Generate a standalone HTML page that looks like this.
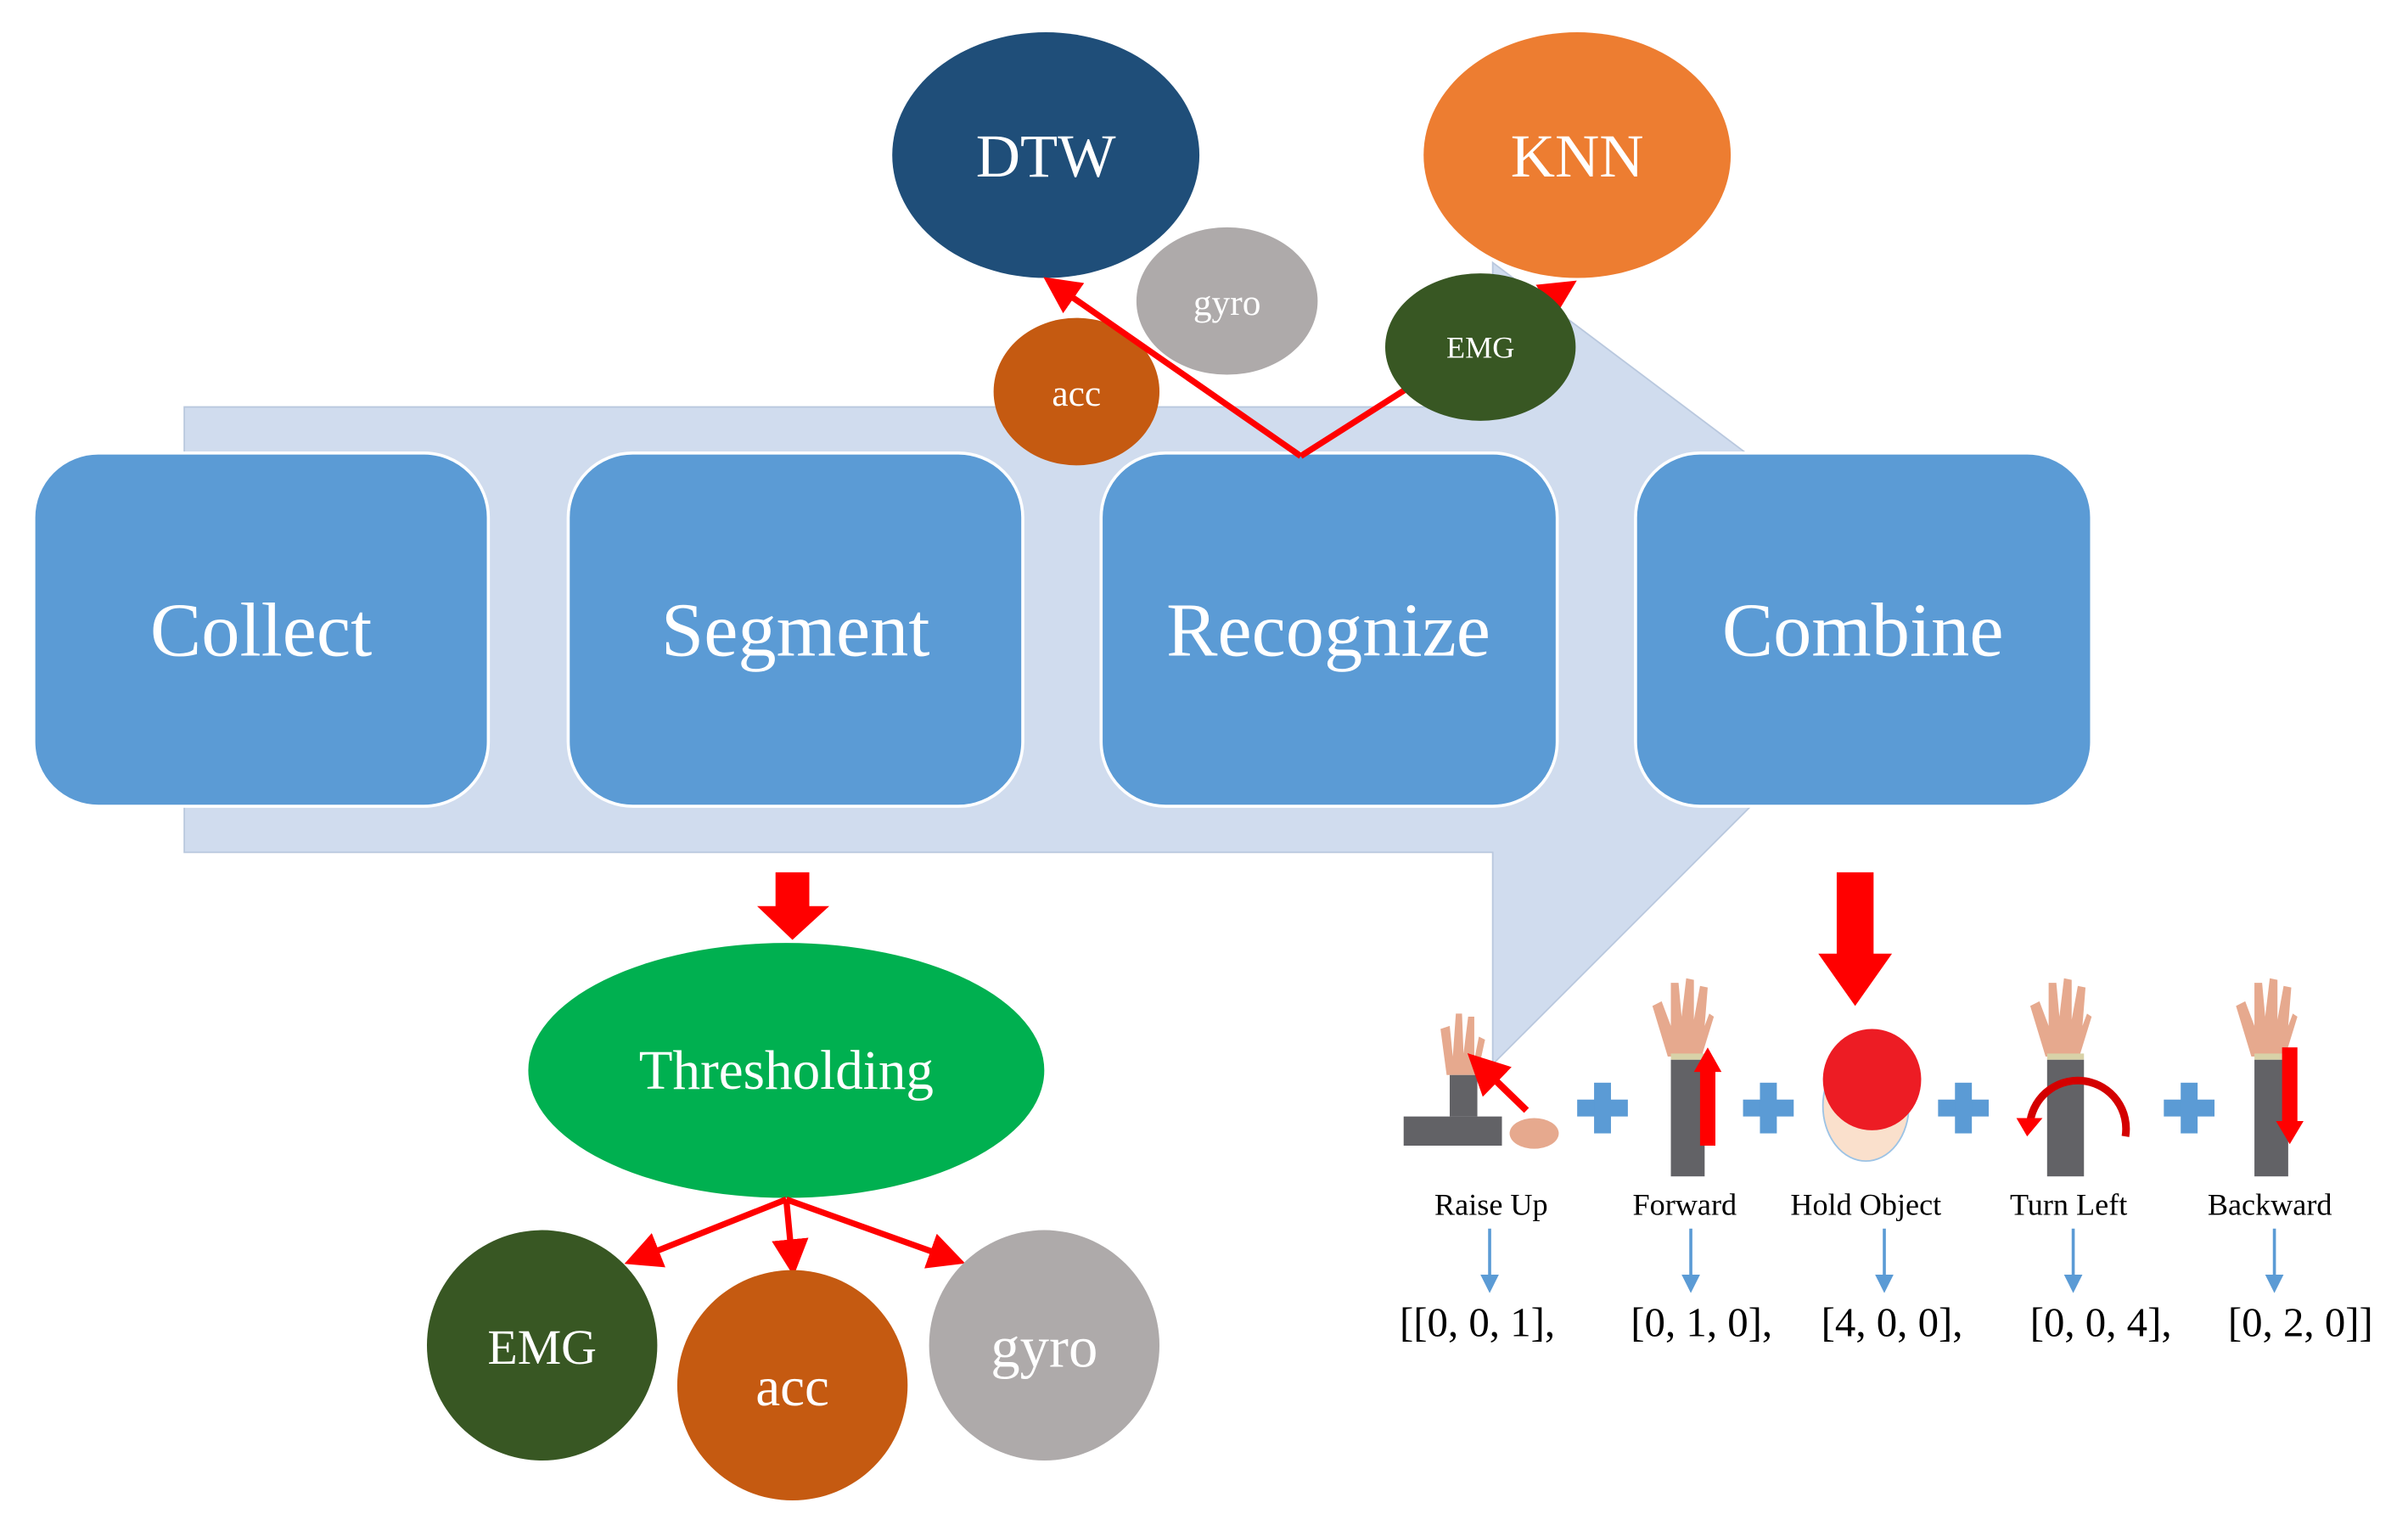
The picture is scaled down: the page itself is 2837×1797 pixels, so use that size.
<!DOCTYPE html>
<html><head><meta charset="utf-8"><style>
html,body{margin:0;padding:0;background:#fff;}
svg{display:block;}
text{font-family:"Liberation Serif",serif;}
</style></head><body>
<svg width="2837" height="1797" viewBox="0 0 1568 993" preserveAspectRatio="none" xmlns="http://www.w3.org/2000/svg">
<defs>
<marker id="ah" markerWidth="6" markerHeight="6" refX="4" refY="3" orient="auto" markerUnits="strokeWidth"><path d="M0,0 L6,3 L0,6 z" fill="#f00"/></marker>
<marker id="bh" markerWidth="6" markerHeight="6" refX="4" refY="3" orient="auto" markerUnits="strokeWidth"><path d="M0,0 L6,3 L0,6 z" fill="#5B9BD5"/></marker>
</defs>
<polygon points="120,265 972,265 972,171 1270,395 972,693 972,555 120,555" fill="#D0DCEE" stroke="#B9C8DE" stroke-width="1"/>
<g fill="#5B9BD5" stroke="#fff" stroke-width="2">
<rect x="22" y="295" width="296" height="230" rx="42"/>
<rect x="370" y="295" width="296" height="230" rx="42"/>
<rect x="717" y="295" width="297" height="230" rx="42"/>
<rect x="1065" y="295" width="297" height="230" rx="42"/>
</g>
<g fill="#fff" font-size="50" text-anchor="middle">
<text x="170" y="427">Collect</text>
<text x="518" y="427">Segment</text>
<text x="865" y="427">Recognize</text>
<text x="1213" y="427">Combine</text>
</g>
<ellipse cx="681" cy="101" rx="100" ry="80" fill="#1F4E79"/>
<ellipse cx="1027" cy="101" rx="100" ry="80" fill="#ED7D31"/>
<text x="681" y="115" font-size="40" fill="#fff" text-anchor="middle">DTW</text>
<text x="1027" y="115" font-size="40" fill="#fff" text-anchor="middle">KNN</text>
<ellipse cx="799" cy="196" rx="59" ry="48" fill="#AEAAAA"/>
<text x="799" y="205" font-size="24" fill="#fff" text-anchor="middle">gyro</text>
<ellipse cx="701" cy="255" rx="54" ry="48" fill="#C55A11"/>
<text x="701" y="264" font-size="24" fill="#fff" text-anchor="middle">acc</text>
<line x1="847" y1="297" x2="1020" y2="187" stroke="#f00" stroke-width="4" marker-end="url(#ah)"/>
<line x1="847" y1="297" x2="686" y2="185" stroke="#f00" stroke-width="4" marker-end="url(#ah)"/>
<ellipse cx="964" cy="226" rx="62" ry="48" fill="#385723"/>
<text x="964" y="233" font-size="20" fill="#fff" text-anchor="middle">EMG</text>
<rect x="505" y="568" width="22" height="24" fill="#f00"/>
<polygon points="493,590 540,590 516,612" fill="#f00"/>
<ellipse cx="512" cy="697" rx="168" ry="83" fill="#00B050"/>
<text x="512" y="709" font-size="36" fill="#fff" text-anchor="middle">Thresholding</text>
<g stroke="#f00" stroke-width="4">
<line x1="512" y1="781" x2="414" y2="820" marker-end="url(#ah)"/>
<line x1="512" y1="781" x2="516" y2="823" marker-end="url(#ah)"/>
<line x1="512" y1="781" x2="621" y2="820" marker-end="url(#ah)"/>
</g>
<circle cx="353" cy="876" r="75" fill="#385723"/>
<circle cx="680" cy="876" r="75" fill="#AEAAAA"/>
<circle cx="516" cy="902" r="75" fill="#C55A11"/>
<text x="353" y="888" font-size="32" fill="#fff" text-anchor="middle">EMG</text>
<text x="680" y="890" font-size="38" fill="#fff" text-anchor="middle">gyro</text>
<text x="516" y="915" font-size="36" fill="#fff" text-anchor="middle">acc</text>
<rect x="1196" y="568" width="24" height="55" fill="#f00"/>
<polygon points="1184,621 1232,621 1208,655" fill="#f00"/>
<g fill="#E6A98E">
<path d="M942,700 L938,670 L944,668 L946,688 L948,660 L952,660 L953,686 L956,662 L960,662 L960,690 L963,675 L967,677 L962,700 z"/>
<path d="M1086,688 L1076,655 L1082,652 L1088,668 L1088,640 L1093,640 L1095,662 L1098,637 L1103,638 L1103,664 L1107,642 L1112,643 L1110,668 L1113,660 L1116,662 L1108,688 z"/>
<path d="M1332,688 L1322,655 L1328,652 L1334,668 L1334,640 L1339,640 L1341,662 L1344,637 L1349,638 L1349,664 L1353,642 L1358,643 L1356,668 L1359,660 L1362,662 L1354,688 z"/>
<path d="M1466,688 L1456,655 L1462,652 L1468,668 L1468,640 L1473,640 L1475,662 L1478,637 L1483,638 L1483,664 L1487,642 L1492,643 L1490,668 L1493,660 L1496,662 L1488,688 z"/>
<ellipse cx="999" cy="738" rx="16" ry="10"/>
</g>
<g fill="#626266">
<rect x="944" y="700" width="18" height="27"/>
<rect x="914" y="727" width="64" height="19"/>
<rect x="1088" y="690" width="22" height="76"/>
<rect x="1333" y="690" width="24" height="76"/>
<rect x="1468" y="690" width="22" height="76"/>
</g>
<g fill="#D8D2A8"><rect x="1088" y="686" width="22" height="4"/><rect x="1333" y="686" width="24" height="4"/><rect x="1468" y="686" width="22" height="4"/></g>
<line x1="994" y1="723" x2="962" y2="692" stroke="#f00" stroke-width="4.5" marker-end="url(#ah)"/>
<rect x="1107" y="696" width="10" height="50" fill="#f00"/>
<polygon points="1103,698 1121,698 1112,682" fill="#f00"/>
<rect x="1486" y="682" width="10" height="50" fill="#f00"/>
<polygon points="1482,730 1500,730 1491,745" fill="#f00"/>
<ellipse cx="1215" cy="720" rx="28" ry="36" fill="#FAE0CC" stroke="#9CC3E5" stroke-width="1"/>
<ellipse cx="1219" cy="703" rx="32" ry="33" fill="#ED1C24"/>
<path d="M1322,730 A26,26 0 0 1 1384,740" fill="none" stroke="#D40000" stroke-width="5"/>
<polygon points="1313,728 1330,728 1320,740" fill="#f00"/>
<g fill="#5B9BD5">
<rect x="1027" y="716" width="33" height="11"/><rect x="1038" y="705" width="11" height="33"/>
<rect x="1135" y="716" width="33" height="11"/><rect x="1146" y="705" width="11" height="33"/>
<rect x="1262" y="716" width="33" height="11"/><rect x="1273" y="705" width="11" height="33"/>
<rect x="1409" y="716" width="33" height="11"/><rect x="1420" y="705" width="11" height="33"/>
</g>
<g font-size="20" fill="#000" text-anchor="middle">
<text x="971" y="791">Raise Up</text>
<text x="1097" y="791">Forward</text>
<text x="1215" y="791">Hold Object</text>
<text x="1347" y="791">Turn Left</text>
<text x="1478" y="791">Backward</text>
</g>
<g stroke="#5B9BD5" stroke-width="2">
<line x1="970" y1="800" x2="970" y2="838" marker-end="url(#bh)"/>
<line x1="1101" y1="800" x2="1101" y2="838" marker-end="url(#bh)"/>
<line x1="1227" y1="800" x2="1227" y2="838" marker-end="url(#bh)"/>
<line x1="1350" y1="800" x2="1350" y2="838" marker-end="url(#bh)"/>
<line x1="1481" y1="800" x2="1481" y2="838" marker-end="url(#bh)"/>
</g>
<g font-size="27" fill="#000" text-anchor="middle">
<text x="962" y="870">[[0, 0, 1],</text>
<text x="1108" y="870">[0, 1, 0],</text>
<text x="1232" y="870">[4, 0, 0],</text>
<text x="1368" y="870">[0, 0, 4],</text>
<text x="1498" y="870">[0, 2, 0]]</text>
</g>
</svg>
</body></html>
